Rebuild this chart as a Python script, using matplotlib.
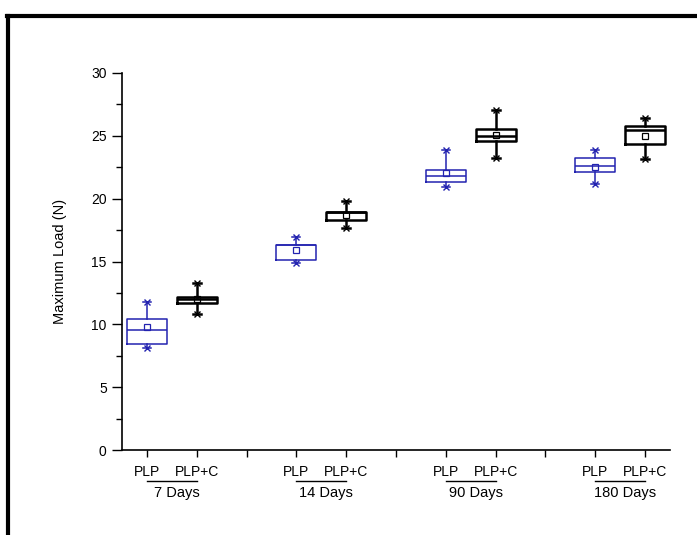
import matplotlib
matplotlib.use("Agg")
import matplotlib.pyplot as plt
import matplotlib.transforms as mtransforms
from matplotlib.lines import Line2D

plt.rcParams['font.family'] = ['Liberation Sans', 'DejaVu Sans']

#### Data ####
positions = [1, 2, 4, 5, 7, 8, 10, 11]
groups = ["PLP", "PLP+C"] * 4
q1 = [8.45, 11.7, 15.1, 18.3, 21.35, 24.6, 22.1, 24.35]
med = [9.55, 12.0, 16.3, 18.9, 21.8, 25.0, 22.6, 25.45]
q3 = [10.45, 12.2, 16.35, 18.95, 22.3, 25.55, 23.2, 25.8]
whislo = [8.15, 10.8, 14.9, 17.65, 20.9, 23.2, 21.15, 23.15]
whishi = [11.8, 13.25, 16.95, 19.8, 23.9, 27.05, 23.85, 26.45]
means = [9.75, 12.0, 15.95, 18.7, 22.05, 25.05, 22.55, 25.0]

tick_pos = [1, 2, 3, 4, 5, 6, 7, 8, 9, 10, 11]
tick_labels = ["PLP", "PLP+C", "", "PLP", "PLP+C", "", "PLP", "PLP+C", "", "PLP", "PLP+C"]
day_labels = ["7 Days", "14 Days", "90 Days", "180 Days"]
day_centers = [1.5, 4.5, 7.5, 10.5]

BLUE = "#2323b0"

#### Plot ####
fig = plt.figure(figsize=(6.97, 5.35), dpi=100)
ax = fig.add_axes([122/697, 1 - 450/535, 548/697, 377/535])

for i, p in enumerate(positions):
    col = BLUE if groups[i] == "PLP" else "black"
    lw = 1.1 if groups[i] == "PLP" else 1.8
    st = [dict(q1=q1[i], med=med[i], q3=q3[i], whislo=whislo[i],
               whishi=whishi[i], mean=means[i], fliers=[])]
    ax.bxp(st, positions=[p], widths=0.8, showmeans=True, showfliers=False,
           boxprops=dict(color=col, linewidth=lw),
           medianprops=dict(color=col, linewidth=lw),
           whiskerprops=dict(color=col, linewidth=lw),
           capprops=dict(color=col, linewidth=lw),
           capwidths=0.16,
           meanprops=dict(marker="s", markerfacecolor="none",
                          markeredgecolor=col, markersize=4,
                          markeredgewidth=0.9),
           manage_ticks=False)
    ax.plot([p, p], [whislo[i], whishi[i]], ls="none", marker="x",
            color=col, markersize=4, markeredgewidth=1.0)

ax.set_xlim(0.5, 11.5)
ax.set_ylim(0, 30)
ax.set_yticks([0, 5, 10, 15, 20, 25, 30])
ax.set_yticks([2.5, 7.5, 12.5, 17.5, 22.5, 27.5], minor=True)
ax.set_xticks(tick_pos)
ax.set_xticklabels(tick_labels)
ax.tick_params(axis="y", which="major", length=7, width=1, labelsize=10, pad=4)
ax.tick_params(axis="y", which="minor", length=4, width=1)
ax.tick_params(axis="x", length=5, width=1, labelsize=10, pad=6)
ax.spines["top"].set_visible(False)
ax.spines["right"].set_visible(False)
ax.spines["left"].set_linewidth(1.2)
ax.spines["bottom"].set_linewidth(1.2)

ax.set_ylabel("Maximum Load (N)", fontsize=10.5)
ax.yaxis.set_label_coords(-0.1, 0.5)

trans = mtransforms.blended_transform_factory(ax.transData, ax.transAxes)
for c, lab in zip(day_centers, day_labels):
    ax.plot([c - 0.5, c + 0.5], [-0.082, -0.082], color="black", lw=1,
            transform=trans, clip_on=False)
    ax.text(c + 0.1, -0.113, lab, transform=trans, ha="center", va="center",
            fontsize=10.5)

# outer frame (only top and left visible in the original)
fig.add_artist(Line2D([8/697, 8/697], [0, 1 - 16/535], color="black",
                      lw=3, transform=fig.transFigure))
fig.add_artist(Line2D([6.5/697, 1], [1 - 16/535, 1 - 16/535], color="black",
                      lw=3, transform=fig.transFigure))

fig.savefig("out.png", dpi=100)
